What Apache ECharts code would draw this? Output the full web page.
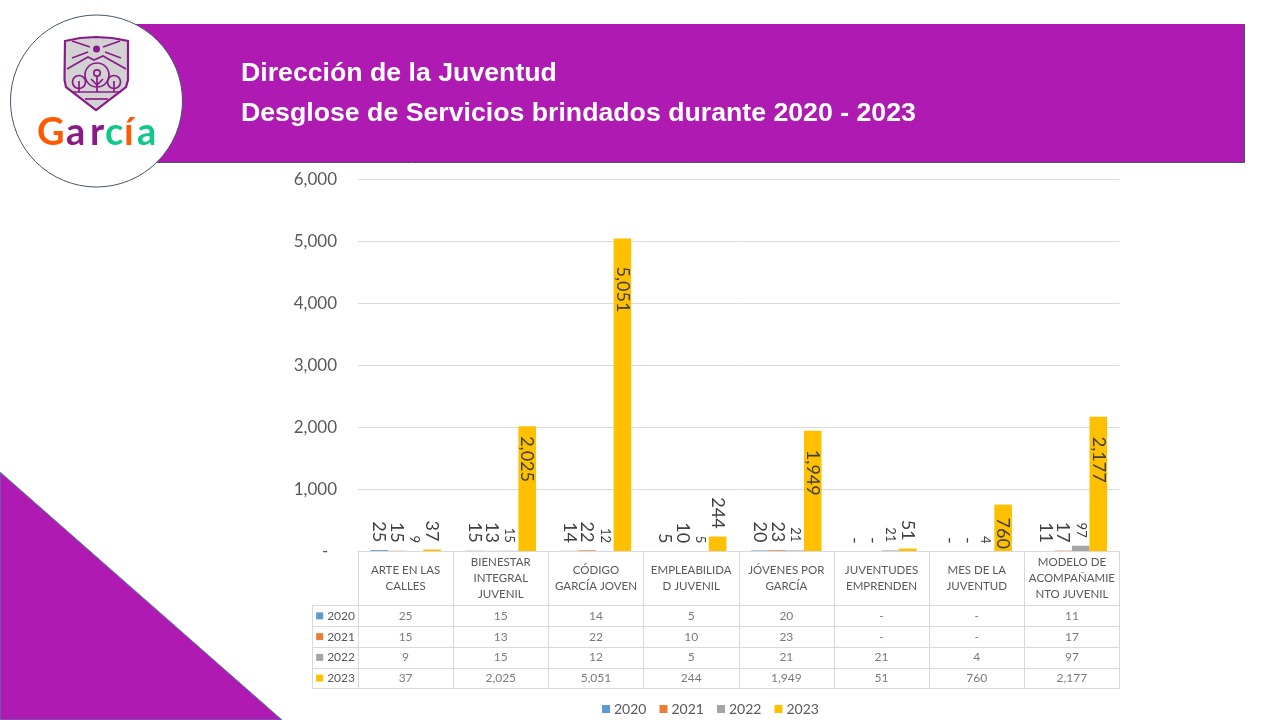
<!DOCTYPE html>
<html>
<head>
<meta charset="utf-8">
<style>
html,body{margin:0;padding:0;background:#fff;}
#main{width:1280px;height:720px;}
</style>
<script src="https://cdn.jsdelivr.net/npm/echarts@6/dist/echarts.min.js"></script>
</head>
<body>
<div id="main"></div>
<script>
const categories = [
    "ARTE EN LAS\nCALLES",
    "BIENESTAR\nINTEGRAL\nJUVENIL",
    "CÓDIGO\nGARCÍA JOVEN",
    "EMPLEABILIDA\nD JUVENIL",
    "JÓVENES POR\nGARCÍA",
    "JUVENTUDES\nEMPRENDEN",
    "MES DE LA\nJUVENTUD",
    "MODELO DE\nACOMPAÑAMIE\nNTO JUVENIL"
];
const years = ["2020", "2021", "2022", "2023"];
const values2020 = [25, 15, 14, 5, 20, 0, 0, 11];
const values2021 = [15, 13, 22, 10, 23, 0, 0, 17];
const values2022 = [9, 15, 12, 5, 21, 21, 4, 97];
const values2023 = [37, 2025, 5051, 244, 1949, 51, 760, 2177];
const yearValues = [values2020, values2021, values2022, values2023];
const yearColors = ["#5B9BD5", "#ED7D31", "#A5A5A5", "#FFC000"];

const titleLines = [
    "Dirección de la Juventud",
    "Desglose de Servicios brindados durante 2020 - 2023"
];

// how far each tall 2023 label sits below the top of its bar
const labelInset = { 760: 13, 2025: 10, 1949: 19, 2177: 20, 5051: 28 };

const PURPLE = "#AE1AB2";
const LOGO = "#8B1A89";
const ORANGE = "#FF5A00";
const GREEN = "#10C88A";
const TEXT = "#595959";
const LINE = "#D9D9D9";
const EDGE = "#44546A";
const FONT = "Lato";

function fmt(v) {
    return v === 0 ? "-" : v.toLocaleString("en-US");
}

function barLabel(size) {
    return {
        show: true,
        position: "top",
        distance: 8,
        rotate: -90,
        align: "right",
        verticalAlign: "middle",
        fontFamily: FONT,
        fontSize: size,
        color: "#404040",
        formatter: p => fmt(p.value)
    };
}

const barSeries = years.map((y, i) => ({
    name: y,
    type: "bar",
    xAxisIndex: 0,
    yAxisIndex: 0,
    barGap: 0,
    barCategoryGap: "26%",
    itemStyle: { color: yearColors[i] },
    label: barLabel(i === 2 ? 13 : 18),
    data: yearValues[i].map(v => {
        if (i === 3 && labelInset[v]) {
            return {
                value: v,
                label: { position: "insideTop", distance: labelInset[v], align: "left" }
            };
        }
        return v;
    })
}));

// table cells
const tableSeries = years.map((y, i) => ({
    name: "tabla " + y,
    type: "scatter",
    xAxisIndex: 1,
    yAxisIndex: 1,
    symbolSize: 1,
    itemStyle: { color: "transparent" },
    silent: true,
    label: {
        show: true,
        position: "inside",
        fontFamily: FONT,
        fontSize: 12,
        color: TEXT,
        formatter: p => fmt(p.value[2])
    },
    data: yearValues[i].map((v, c) => [c, y, v])
}));

const yearRich = { t: { fontFamily: FONT, fontSize: 12, color: TEXT, padding: [0, 0, 0, 4] } };
years.forEach((y, i) => {
    yearRich["k" + i] = { width: 7, height: 7, backgroundColor: yearColors[i] };
});

// logo
const letters = [
    ["G", 37, ORANGE],
    ["a", 66, LOGO],
    ["r", 90, LOGO],
    ["c", 105, GREEN],
    ["í", 124, ORANGE],
    ["a", 137, GREEN]
];

function logoLine(points) {
    return { type: "polyline", shape: { points: points }, style: { fill: "none", stroke: LOGO, lineWidth: 1.7 }, z: 12 };
}

function logoRing(cx, cy, r) {
    return { type: "circle", shape: { cx: cx, cy: cy, r: r }, style: { fill: "none", stroke: LOGO, lineWidth: 1.7 }, z: 12 };
}

const logoGraphics = [
    { type: "circle", shape: { cx: 96.5, cy: 101, r: 86 }, style: { fill: "#fff", stroke: EDGE, lineWidth: 1 }, z: 10 },
    {
        type: "polygon",
        shape: { points: [[65, 41], [80, 38], [96, 37], [112, 38], [128, 41], [128, 80], [126, 87], [96, 110], [66, 87], [64.5, 80]] },
        style: { fill: "#D2D2D2", stroke: LOGO, lineWidth: 2.2 },
        z: 11
    },
    { type: "circle", shape: { cx: 96.5, cy: 49, r: 3.5 }, style: { fill: LOGO }, z: 12 },
    logoLine([[67, 69], [88, 57], [94, 60], [103, 56], [126, 69]]),
    logoLine([[72, 58], [88, 52]]),
    logoLine([[105, 52], [121, 58]]),
    logoLine([[72, 41], [90, 47]]),
    logoLine([[120, 41], [103, 47]]),
    logoRing(97, 75, 12),
    logoRing(97, 73, 3.2),
    logoRing(79, 82, 6.5),
    logoRing(114, 82, 6.5),
    logoLine([[97, 77], [97, 92]]),
    logoLine([[91, 79], [97, 85], [103, 79]]),
    logoLine([[79, 81], [79, 92]]),
    logoLine([[114, 81], [114, 92]]),
    logoLine([[72, 92], [121, 92]]),
    logoLine([[85, 99], [108, 99]])
].concat(letters.map(l => ({
    type: "text",
    x: l[1],
    y: 114,
    z: 12,
    style: { text: l[0], font: "bold 38px 'Lato'", fill: l[2] }
})));

const chart = echarts.init(document.getElementById("main"));

chart.setOption({
    animation: false,
    backgroundColor: "#fff",
    textStyle: { fontFamily: FONT },
    legend: {
        data: years,
        icon: "rect",
        itemWidth: 8,
        itemHeight: 8,
        itemGap: 13,
        left: 602,
        top: 702,
        padding: 0,
        textStyle: { fontFamily: FONT, fontSize: 14, color: TEXT, padding: [0, 0, 0, -1] }
    },
    grid: [
        { left: 358, right: 160.5, top: 179.7, height: 372 },
        { left: 358, right: 160.5, top: 605.5, height: 83 }
    ],
    xAxis: [
        {
            type: "category",
            gridIndex: 0,
            data: categories,
            z: 5,
            axisLine: { lineStyle: { color: LINE } },
            axisTick: { show: true, length: 54, lineStyle: { color: LINE } },
            axisLabel: {
                interval: 0,
                margin: 27,
                verticalAlign: "middle",
                fontFamily: FONT,
                fontSize: 11.5,
                lineHeight: 16,
                color: TEXT,
                hideOverlap: false
            }
        },
        {
            type: "category",
            gridIndex: 1,
            data: categories,
            axisLine: { lineStyle: { color: LINE } },
            axisTick: { show: false },
            axisLabel: { show: false },
            splitLine: { show: true, interval: 0, lineStyle: { color: LINE } }
        }
    ],
    yAxis: [
        {
            type: "value",
            gridIndex: 0,
            min: 0,
            max: 6000,
            interval: 1000,
            axisLine: { show: false },
            axisTick: { show: false },
            splitLine: { lineStyle: { color: LINE } },
            axisLabel: {
                margin: 21,
                padding: [2, 0, 0, 0],
                fontFamily: FONT,
                fontSize: 17,
                color: TEXT,
                formatter: v => (v === 0 ? "-  " : fmt(v))
            }
        },
        {
            type: "category",
            gridIndex: 1,
            inverse: true,
            data: years,
            axisLine: { lineStyle: { color: LINE } },
            axisTick: { show: true, length: 46, lineStyle: { color: LINE } },
            splitLine: { show: true, interval: 0, lineStyle: { color: LINE } },
            axisLabel: {
                interval: 0,
                margin: 3,
                formatter: v => "{k" + years.indexOf(v) + "|}{t|" + v + "}",
                rich: yearRich
            }
        }
    ],
    series: barSeries.concat(tableSeries),
    graphic: [
        // banner
        { type: "rect", shape: { x: 135, y: 24, width: 1110, height: 138 }, style: { fill: PURPLE }, z: 1 },
        { type: "polyline", shape: { points: [[1244.5, 24], [1244.5, 162.5], [135, 162.5]] }, style: { fill: "none", stroke: EDGE, lineWidth: 1 }, z: 1 },
        { type: "text", x: 241, y: 60, z: 2, style: { text: titleLines[0], font: "bold 26.7px 'Liberation Sans'", fill: "#fff" } },
        { type: "text", x: 241, y: 100, z: 2, style: { text: titleLines[1], font: "bold 26.7px 'Liberation Sans'", fill: "#fff" } },
        // corner triangle
        {
            type: "polygon",
            shape: { points: [[0, 472], [282, 720], [0, 720]] },
            style: { fill: PURPLE, stroke: "#4F86A8", lineWidth: 1 },
            z: 1
        },
        // left edge of the table
        { type: "line", shape: { x1: 312.5, y1: 605, x2: 312.5, y2: 688.5 }, style: { stroke: LINE, lineWidth: 1 }, z: 1 }
    ].concat(logoGraphics)
});

window.addEventListener("resize", () => chart.resize());
</script>
</body>
</html>
